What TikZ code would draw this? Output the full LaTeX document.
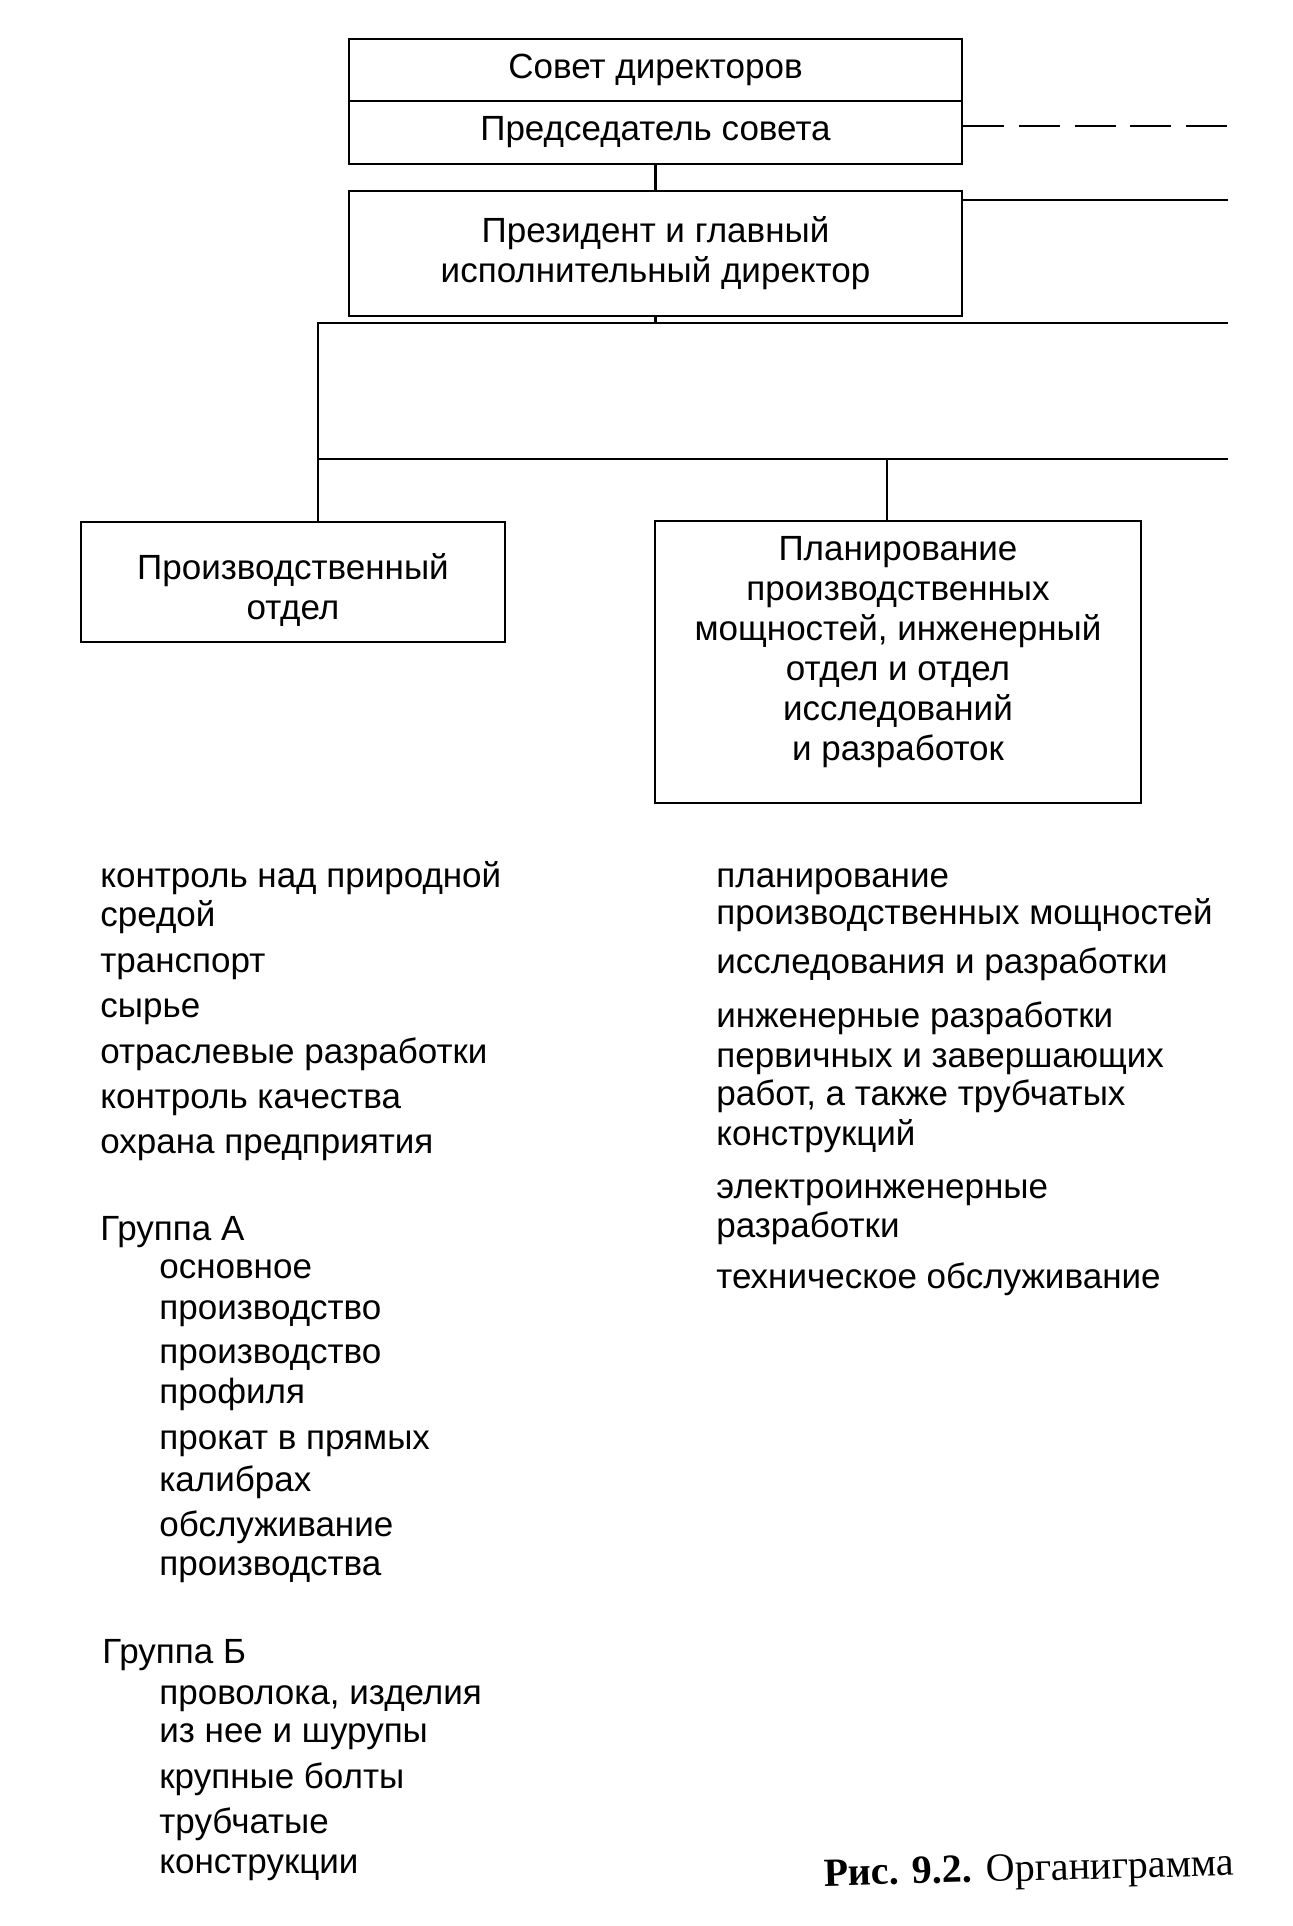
\documentclass[tikz,border=0pt]{standalone}
\usepackage{fontspec}
\setmainfont{Liberation Sans}
\newfontfamily\capfont{Liberation Serif}

\begin{document}
\begin{tikzpicture}[x=0.5pt, y=-0.5pt,
    box/.style={draw, line width=1.4pt, inner sep=0pt, align=center, font=\fontsize{17.5}{20}\selectfont},
    wire/.style={line width=1.2pt},
    item/.style={anchor=base west, inner sep=0pt, font=\fontsize{17.5}{20}\selectfont}]
      \useasboundingbox (0,0) rectangle (1292,1926);

      \node[box, minimum width=306.5pt, minimum height=31pt](board) at (655.5, 70.0){Совет директоров};
      \node[box, minimum width=306.5pt, minimum height=31.5pt](chair) at (655.5, 132.5){Председатель совета};
      \node[box, minimum width=306.5pt, minimum height=62.5pt](pres) at (655.5, 253.5){Президент и главный\\исполнительный директор};
      \node[box, minimum width=212pt, minimum height=60pt, text height=41pt](prod) at (293.0, 582.0){Производственный\\отдел};
      \node[box, minimum width=243pt, minimum height=141pt, text depth=14pt](plan) at (898.0, 662.0){Планирование\\производственных\\мощностей, инженерный\\отдел и отдел\\исследований\\и разработок};

      \coordinate(dashend) at (1228, 126);
      \coordinate(presend) at (1228, 200);
      \coordinate(busA) at (1228, 323);
      \coordinate(busB) at (1228, 459);
      \coordinate(tapA) at ( 318, 323);
      \coordinate(tapB) at ( 887, 459);

      \draw[wire] (chair.south) -- (pres.north);
      \draw[wire, dash pattern=on 20.5pt off 7.3pt] (dashend -| chair.east) -- (dashend);
      \draw[wire] (presend -| pres.east) -- (presend);
      \draw[wire] (pres.south) -- (pres.south |- busA);
      \draw[wire] (busA) -- (tapA) -- (tapA |- prod.north);
      \draw[wire] (busB) -- (busB -| tapA);
      \draw[wire] (tapB) -- (tapB |- plan.north);

      \foreach \x\y\t [count=\i] in {100/887/контроль над природной, 100/926/средой, 100/972/транспорт,
          100/1017/сырье, 100/1063/отраслевые разработки, 100/1108/контроль качества,
          100/1153/охрана предприятия, 100/1240/Группа А, 159/1278/основное, 159/1319/производство,
          159/1363/производство, 159/1403/профиля, 159/1449/прокат в прямых, 159/1491/калибрах,
          159/1536/обслуживание, 159/1575/производства, 102/1663/Группа Б,
          159/1704/{проволока, изделия}, 159/1742/из нее и шурупы, 159/1788/крупные болты,
          159/1833/трубчатые, 159/1873/конструкции} {
        \node[item](left\i) at (\x, \y){\t};
      }

      \foreach \y\t [count=\i] in {887/планирование, 924/производственных мощностей,
          973/исследования и разработки, 1027/инженерные разработки, 1067/первичных и завершающих,
          1105/{работ, а также трубчатых}, 1145/конструкций, 1198/электроинженерные,
          1237/разработки, 1288/техническое обслуживание} {
        \node[item](right\i) at (716, \y){\t};
      }

      \node[anchor=base west, inner sep=0pt, rotate=1.5, font=\capfont\fontsize{20}{24}\selectfont](caption) at (824, 1886){\textbf{Рис. 9.2.} Органиграмма};
    \end{tikzpicture}
\end{document}
